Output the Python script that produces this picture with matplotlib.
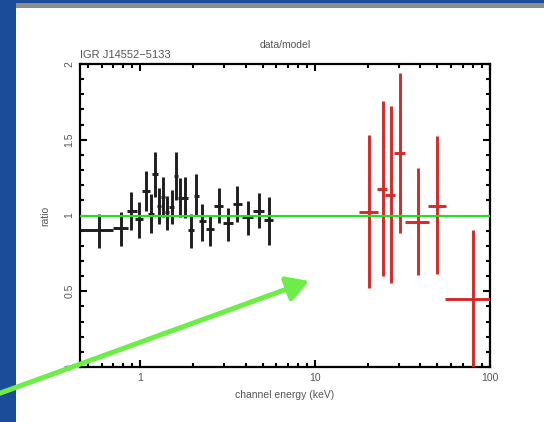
import numpy as np
import matplotlib.pyplot as plt
from matplotlib.patches import Rectangle, FancyArrowPatch
from matplotlib.ticker import FixedLocator, NullFormatter

plt.rcParams['font.family'] = ['Liberation Sans', 'DejaVu Sans']

# low energy spectrum (black): channel energy (keV), bin edges, ratio and error range
black_e = [0.581, 0.778, 0.888, 0.987, 1.083, 1.157, 1.22, 1.286, 1.356, 1.43, 1.527, 1.61,
           1.676, 1.79, 1.937, 2.07, 2.24, 2.49, 2.81, 3.16, 3.56, 4.12, 4.77, 5.44]
black_lo = [0.452, 0.700, 0.842, 0.936, 1.027, 1.112, 1.172, 1.252, 1.320, 1.392, 1.468, 1.568,
            1.653, 1.720, 1.862, 2.016, 2.154, 2.364, 2.628, 2.960, 3.379, 3.806, 4.403, 5.092]
black_hi = [0.700, 0.853, 0.961, 1.040, 1.141, 1.203, 1.269, 1.320, 1.392, 1.468, 1.568, 1.653,
            1.720, 1.862, 2.016, 2.154, 2.364, 2.628, 2.960, 3.379, 3.806, 4.403, 5.092, 5.736]
black_r = [0.904, 0.917, 1.03, 0.977, 1.162, 1.01, 1.274, 1.063, 1.122, 1.023, 1.056, 1.26,
           1.116, 1.116, 0.904, 1.129, 0.964, 0.911, 1.063, 0.95, 1.076, 0.99, 1.03, 0.97]
black_top = [1.01, 1.023, 1.155, 1.089, 1.294, 1.142, 1.419, 1.18, 1.254, 1.129, 1.168, 1.419,
             1.248, 1.254, 1.01, 1.274, 1.076, 1.003, 1.18, 1.05, 1.195, 1.096, 1.149, 1.122]
black_bot = [0.785, 0.80, 0.904, 0.851, 1.03, 0.884, 1.122, 0.944, 0.99, 0.904, 0.944, 1.102,
             0.99, 0.983, 0.785, 1.003, 0.832, 0.80, 0.95, 0.832, 0.957, 0.871, 0.917, 0.805]

# high energy spectrum (red)
red_e = [20.2, 24.3, 27.0, 30.4, 38.6, 49.6, 79.9]
red_lo = [17.7, 22.7, 25.0, 28.1, 32.5, 44.0, 55.1]
red_hi = [23.0, 25.6, 28.8, 32.5, 44.6, 55.9, 115.0]
red_r = [1.023, 1.175, 1.135, 1.413, 0.957, 1.063, 0.449]
red_top = [1.531, 1.756, 1.723, 1.94, 1.314, 1.525, 0.904]
red_bot = [0.521, 0.60, 0.554, 0.884, 0.607, 0.614, -0.05]

xticks = [1, 10, 100]
xticklabels = ['1', '10', '100']
yticks = [0, 0.5, 1, 1.5, 2]
yticklabels = ['0', '0.5', '1', '1.5', '2']

W, H = 544, 422
fig = plt.figure(figsize=(W / 100, H / 100), dpi=100)
fig.patch.set_facecolor('#1b4c9a')

# slide background: white panel and grey strip on top
fig.add_artist(Rectangle((16 / W, 0), 1, 1 - 8 / H, transform=fig.transFigure,
                         facecolor='white', edgecolor='none', zorder=0))
fig.add_artist(Rectangle((16 / W, 1 - 8 / H), 1, 5 / H, transform=fig.transFigure,
                         facecolor='#8c8c8c', edgecolor='none', zorder=0))

ax = fig.add_axes([80 / W, 1 - 367 / H, 410 / W, 303 / H])
ax.set_facecolor('none')
ax.set_xscale('log')
ax.set_xlim(0.452, 100)
ax.set_ylim(0, 2)


def err(c, lo, hi):
    c = np.array(c)
    return [c - np.array(lo), np.array(hi) - c]


ax.errorbar(black_e, black_r, xerr=err(black_e, black_lo, black_hi),
            yerr=err(black_r, black_bot, black_top), fmt='none',
            ecolor='#1e1e1e', elinewidth=2.1, capsize=0, zorder=3)
ax.errorbar(red_e, red_r, xerr=err(red_e, red_lo, red_hi),
            yerr=err(red_r, red_bot, red_top), fmt='none',
            ecolor='#d32a2a', elinewidth=2.1, capsize=0, zorder=3)

ax.axhline(1, color='#1ee21e', lw=1.5, zorder=4)

# pgplot style ticks
ax.xaxis.set_major_locator(FixedLocator(xticks))
ax.set_xticklabels(xticklabels)
minor_x = [m * d for d in (0.1, 1, 10) for m in range(2, 10)]
ax.xaxis.set_minor_locator(FixedLocator(minor_x))
ax.xaxis.set_minor_formatter(NullFormatter())
ax.set_yticks(yticks)
ax.set_yticklabels(yticklabels, rotation=90, va='center')
ax.yaxis.set_minor_locator(FixedLocator(np.arange(0, 2.01, 0.1)))
ax.tick_params(which='both', direction='in', top=True, right=True,
               width=1.5, color='black', labelsize=7.5, labelcolor='#555555')
ax.tick_params(which='major', length=5, pad=4)
ax.tick_params(which='minor', length=2.8)
for s in ax.spines.values():
    s.set_linewidth(1.6)

ax.set_xlabel('channel energy (keV)', fontsize=7.5, color='#555555')
ax.xaxis.set_label_coords(0.5, -0.076)
ax.set_ylabel('ratio', fontsize=7.5, color='#555555')
ax.yaxis.set_label_coords(-0.073, 0.5)
ax.text(0.5, 1.063, 'data/model', transform=ax.transAxes, ha='center', va='center',
        fontsize=7.5, color='#555555')
ax.text(0.0, 1.012, 'IGR J14552\u22125133', transform=ax.transAxes, ha='left', va='bottom',
        fontsize=8, color='#555555')

# green arrow pointing into the gap between the two spectra
arrow = FancyArrowPatch((-5 / W, 1 - 395 / H), (309 / W, 1 - 281 / H),
                        transform=fig.transFigure, arrowstyle='-|>,head_length=0.65,head_width=0.38',
                        mutation_scale=20, color='#6ced48', lw=3.6, shrinkA=0, shrinkB=0,
                        zorder=10)
fig.add_artist(arrow)

fig.savefig('out.png', dpi=100, facecolor=fig.get_facecolor())
